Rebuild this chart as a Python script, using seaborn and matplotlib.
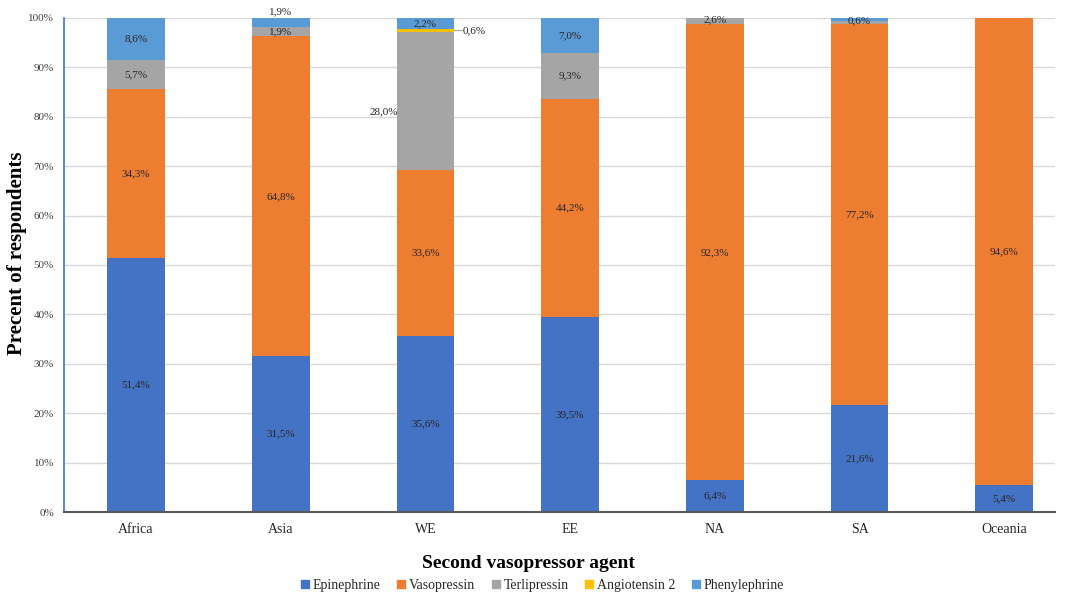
import matplotlib
matplotlib.use("Agg")
import matplotlib.pyplot as plt
import seaborn as sns
import pandas as pd
import numpy as np

# Regions and share of respondents (%) per second vasopressor agent
regions = ["Africa", "Asia", "WE", "EE", "NA", "SA", "Oceania"]
epinephrine = [51.4, 31.5, 35.6, 39.5, 6.4, 21.6, 5.4]
vasopressin = [34.3, 64.8, 33.6, 44.2, 92.3, 77.2, 94.6]
terlipressin = [5.7, 1.9, 28.0, 9.3, 2.6, 0.6, 0.0]
angiotensin = [0.0, 0.0, 0.6, 0.0, 0.0, 0.0, 0.0]
phenylephrine = [8.6, 1.9, 2.2, 7.0, 0.0, 0.6, 0.0]

agents = ["Epinephrine", "Vasopressin", "Terlipressin", "Angiotensin 2", "Phenylephrine"]
series = [epinephrine, vasopressin, terlipressin, angiotensin, phenylephrine]
colors = ["#4472C4", "#ED7D31", "#A5A5A5", "#FFC000", "#5B9BD5"]
y_ticks = [0, 10, 20, 30, 40, 50, 60, 70, 80, 90, 100]
y_tick_labels = [f"{t}%" for t in y_ticks]

sns.set_style("white")
plt.rcParams["font.family"] = ["Liberation Serif", "DejaVu Serif"]

fig = plt.figure(figsize=(10.67, 5.94), dpi=100)
ax = fig.add_axes([63.7 / 1067, 1 - 512 / 594, (1055 - 63.7) / 1067, (512 - 18) / 594])

vals = np.array(series)
cum = np.cumsum(vals, axis=0)
bottoms = cum - vals

# Stacked bars: draw cumulative totals from the top layer down
for i in range(len(agents) - 1, -1, -1):
    df = pd.DataFrame({"region": regions, "value": cum[i]})
    sns.barplot(data=df, x="region", y="value", color=colors[i], width=0.4,
                saturation=1, ax=ax, linewidth=0, zorder=2)

ax.set_xlim(-0.5, (1055 - 63.7) / 144.7 - 0.5)
ax.set_ylim(0, 100)
ax.set_yticks(y_ticks)
ax.set_yticklabels(y_tick_labels, fontsize=8, color="#404040")
ax.tick_params(axis="both", length=0)
ax.tick_params(axis="x", labelsize=10, colors="#262626", pad=8)
ax.tick_params(axis="y", pad=7)
ax.yaxis.grid(True, color="#D9D9D9", linewidth=1, zorder=0)
ax.set_axisbelow(True)
for s in ["top", "right"]:
    ax.spines[s].set_visible(False)
ax.spines["left"].set_color("#4472C4")
ax.spines["left"].set_linewidth(1.2)
ax.spines["bottom"].set_color("#595959")
ax.spines["bottom"].set_linewidth(1.5)
ax.spines["bottom"].set_zorder(5)
ax.set_xlabel("")
ax.set_ylabel("Precent of respondents", fontsize=15, fontweight="bold", color="black")
ax.yaxis.set_label_coords(-0.037, 0.523)
fig.text(0.495, 1 - 563 / 594, "Second vasopressor agent", ha="center", va="center",
         fontsize=14, fontweight="bold", color="black")


def fmt(v):
    return f"{v:.1f}%".replace(".", ",")


lab_kw = dict(fontsize=8, color="#262626", ha="center", va="center", zorder=6)
for i, name in enumerate(agents):
    for j, reg in enumerate(regions):
        v = vals[i, j]
        if v <= 0:
            continue
        y = bottoms[i, j] + v / 2
        x = j
        if reg == "SA" and name == "Terlipressin":
            continue
        if reg == "Asia" and name == "Phenylephrine":
            y = 101.2
        elif reg == "WE" and name == "Terlipressin":
            x, y = j - 0.29, 81.0
        elif reg == "WE" and name == "Angiotensin 2":
            ax.plot([j + 0.2, j + 0.25], [y, y], color="#A6A6A6", lw=0.8, zorder=6,
                    clip_on=False)
            ax.text(j + 0.26, y, fmt(v), fontsize=8, color="#262626", ha="left",
                    va="center", zorder=6)
            continue
        elif reg == "NA" and name == "Terlipressin":
            y = 99.6
        elif reg == "SA" and name == "Phenylephrine":
            y = 99.4
        ax.text(x, y, fmt(v), clip_on=False, **lab_kw)

handles = [plt.Line2D([], [], marker="s", linestyle="", markersize=6,
                      markerfacecolor=c, markeredgecolor=c) for c in colors]
fig.legend(handles, agents, loc="center", bbox_to_anchor=(0.507, 1 - 585 / 594),
           ncol=5, frameon=False, fontsize=10, handletextpad=0.05,
           handlelength=1.0, columnspacing=1.0, labelcolor="#262626")

fig.savefig("out.png", dpi=100)
